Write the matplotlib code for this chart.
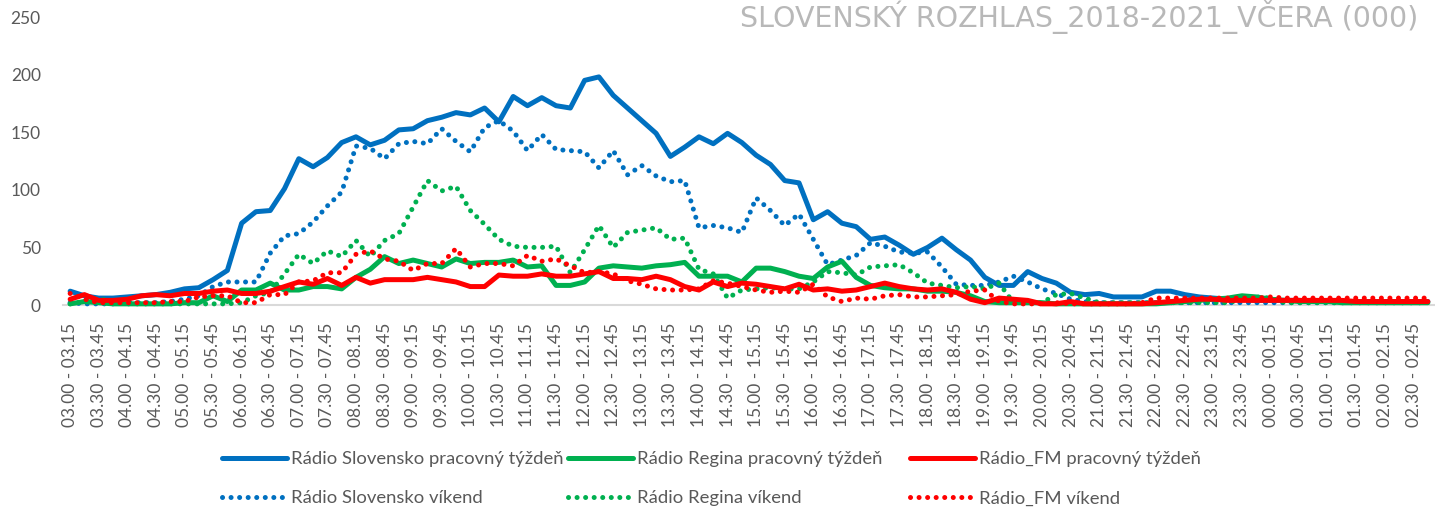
import matplotlib.pyplot as plt
from matplotlib.lines import Line2D

plt.rcParams['font.family'] = ['Lato', 'DejaVu Sans']

# quarter-hour slots 03.00 - 03.15 ... 02.45 - 03.00
slots = []
for k in range(96):
    h1, m1 = divmod(3 * 60 + 15 * k, 60)
    h2, m2 = divmod(3 * 60 + 15 * k + 15, 60)
    slots.append('%02d.%02d - %02d.%02d' % (h1 % 24, m1, h2 % 24, m2))

# values in thousands
slovensko_work = [12, 8, 6, 6, 7, 8, 9, 11, 14, 15,
                  22, 30, 71, 81, 82, 101, 127, 120, 128, 141,
                  146, 139, 143, 152, 153, 160, 163, 167, 165, 171,
                  159, 181, 173, 180, 173, 171, 195, 198, 182, 171,
                  160, 149, 129, 137, 146, 140, 149, 141, 130, 122,
                  108, 106, 74, 81, 71, 68, 57, 59, 52, 44,
                  50, 58, 48, 39, 24, 17, 17, 29, 23, 19,
                  11, 9, 10, 7, 7, 7, 12, 12, 9, 7,
                  6, 5, 5, 4, 4, 4, 4, 3, 3, 3,
                  3, 3, 3, 3, 3, 3]
regina_work = [1, 3, 2, 1, 1, 1, 1, 1, 2, 2,
               8, 3, 13, 13, 19, 13, 13, 16, 16, 14,
               24, 31, 42, 36, 39, 36, 33, 40, 36, 37,
               37, 39, 33, 34, 17, 17, 20, 32, 34, 33,
               32, 34, 35, 37, 25, 25, 25, 20, 32, 32,
               29, 25, 23, 33, 38, 24, 17, 15, 14, 14,
               12, 12, 11, 8, 3, 2, 2, 2, 2, 1,
               1, 1, 1, 1, 1, 1, 1, 2, 3, 4,
               5, 6, 8, 7, 5, 4, 3, 3, 3, 2,
               2, 2, 2, 2, 2, 2]
fm_work = [5, 9, 4, 4, 5, 8, 9, 8, 10, 10,
           12, 13, 10, 10, 12, 16, 20, 18, 23, 17,
           24, 19, 22, 22, 22, 24, 22, 20, 16, 16,
           26, 25, 25, 27, 25, 25, 27, 29, 23, 23,
           22, 25, 22, 16, 13, 20, 16, 19, 18, 16,
           14, 18, 13, 14, 12, 13, 16, 19, 16, 14,
           13, 14, 11, 5, 2, 6, 5, 4, 1, 1,
           3, 1, 1, 1, 1, 1, 2, 3, 4, 5,
           5, 4, 4, 4, 4, 4, 4, 4, 4, 4,
           3, 3, 3, 3, 3, 3]
slovensko_weekend = [2, 1, 1, 1, 2, 2, 2, 3, 5, 8,
                     16, 20, 20, 20, 45, 60, 62, 72, 86, 98,
                     138, 136, 127, 140, 142, 140, 153, 142, 133, 154,
                     160, 151, 134, 148, 135, 134, 133, 119, 134, 113,
                     121, 112, 107, 108, 67, 69, 67, 63, 93, 82,
                     69, 79, 57, 35, 39, 43, 54, 51, 46, 45,
                     46, 33, 18, 17, 17, 20, 25, 20, 14, 10,
                     5, 3, 2, 2, 2, 2, 2, 2, 2, 2,
                     2, 2, 2, 2, 2, 2, 2, 2, 2, 2,
                     2, 2, 2, 2, 2, 2]
regina_weekend = [1, 3, 6, 2, 1, 1, 1, 1, 1, 1,
                  1, 1, 2, 8, 11, 27, 44, 36, 47, 42,
                  56, 42, 56, 62, 85, 108, 99, 103, 82, 70,
                  57, 51, 50, 50, 51, 28, 48, 69, 50, 63,
                  65, 67, 57, 58, 31, 27, 6, 13, 14, 15,
                  14, 14, 20, 29, 28, 26, 33, 34, 35, 28,
                  19, 17, 15, 16, 14, 19, 2, 1, 2, 9,
                  10, 6, 2, 2, 2, 2, 2, 2, 2, 2,
                  2, 2, 5, 7, 6, 2, 2, 2, 2, 2,
                  2, 2, 2, 2, 2, 2]
fm_weekend = [10, 5, 2, 2, 2, 2, 2, 3, 3, 7,
              8, 8, 2, 2, 9, 9, 20, 21, 28, 28,
              44, 47, 40, 38, 30, 36, 36, 49, 33, 36,
              36, 34, 43, 38, 40, 34, 28, 29, 27, 21,
              18, 14, 13, 13, 14, 21, 19, 16, 13, 11,
              12, 11, 18, 7, 3, 6, 5, 8, 9, 7,
              7, 8, 9, 12, 13, 3, 1, 1, 1, 2,
              1, 1, 1, 1, 1, 2, 6, 6, 6, 6,
              6, 6, 6, 6, 7, 6, 6, 6, 6, 6,
              6, 6, 6, 6, 6, 6]

names = ['Rádio Slovensko', 'Rádio Regina', 'Rádio_FM']
colors = ['#0070C0', '#00B050', '#FF0000']
work = [slovensko_work, regina_work, fm_work]
weekend = [slovensko_weekend, regina_weekend, fm_weekend]

W, H = 1435, 508
fig = plt.figure(figsize=(W / 100, H / 100), dpi=100)
ax = fig.add_axes([63 / W, 1 - 305 / H, (W - 63) / W, (305 - 17) / H])

dots = (0, (0.01, 1.7))
x = range(len(slots))
handles = []
for name, c, wv, we in zip(names, colors, work, weekend):
    h1, = ax.plot(x, wv, color=c, lw=3.6, solid_joinstyle='round',
                  solid_capstyle='round', label=name + ' pracovný týždeň', clip_on=False)
    h2, = ax.plot(x, we, color=c, lw=3.6, linestyle=dots, dash_capstyle='round',
                  label=name + ' víkend', clip_on=False)
    handles.append((h1, h2))

ax.set_xlim(-0.5, len(slots) - 0.5)
ax.set_ylim(0, 250)
ax.set_yticks(range(0, 251, 50))
ax.set_xticks(range(0, len(slots), 2))
ax.set_xticklabels(slots[::2], rotation=90)
ax.tick_params(axis='both', length=0, labelsize=12.5, labelcolor='#595959')
ax.tick_params(axis='y', pad=16)
ax.tick_params(axis='x', pad=13)
for s in ['top', 'right', 'left']:
    ax.spines[s].set_visible(False)
ax.spines['bottom'].set_color('#D9D9D9')
ax.spines['bottom'].set_linewidth(1.5)
ax.spines['bottom'].set_zorder(0)

# legend: one block per station, weekday row on top, weekend row below
col_x = [222, 568, 910]
for (h1, h2), cx in zip(handles, col_x):
    fig.legend(handles=[h1, h2], loc='upper left',
               bbox_to_anchor=(cx / W, 1 - 451 / H), frameon=False,
               fontsize=13.3, handlelength=3.5, handletextpad=0.25,
               borderpad=0, borderaxespad=0, labelspacing=1.27,
               labelcolor='#595959')

fig.text(1418 / W, 1 - 17 / H, 'SLOVENSKÝ ROZHLAS_2018-2021_VČERA (000)',
         ha='right', va='center', fontsize=20.5, color='#B8B8B8',
         family=['DejaVu Sans'])

fig.savefig('out.png', dpi=100)
